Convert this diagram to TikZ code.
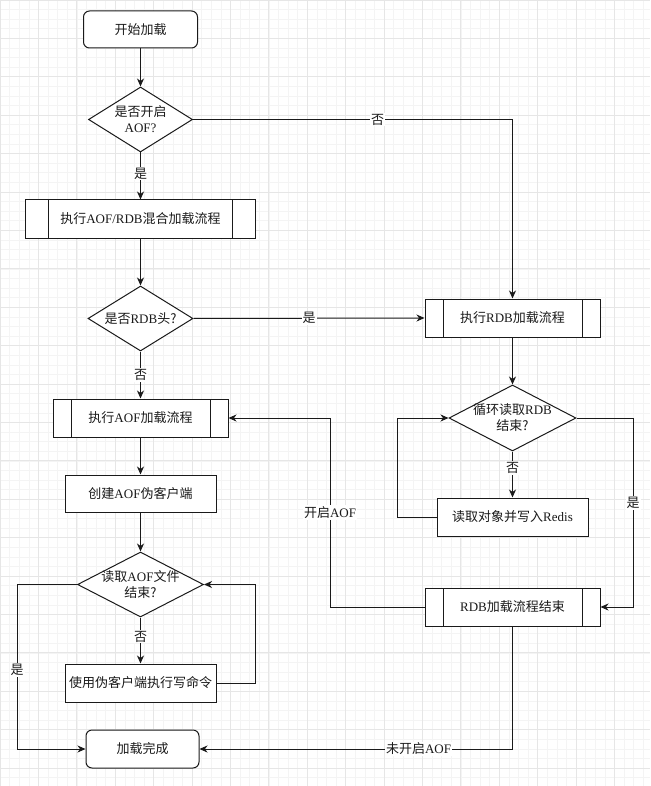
\documentclass[tikz,border=0pt]{standalone}
\usepackage{fontspec}
\setmainfont{Liberation Serif}
\newfontfamily\cjk{Noto Sans CJK SC}
\newcommand\zh[1]{{\cjk #1}}
\usetikzlibrary{shapes.geometric,arrows.meta}
\definecolor{gridminor}{HTML}{F4F4F4}
\definecolor{gridmajor}{HTML}{E6E6E6}
\definecolor{ink}{HTML}{1A1A1A}
\tikzset{
  base/.style={draw=ink, line width=1pt, inner sep=0pt, fill=white, font=\fontsize{13}{16}\selectfont, align=center, text=ink},
  term/.style={base, rounded corners=6pt},
  boxn/.style={base},
  proc/.style={base, path picture={
      \draw[ink, line width=1pt] ([xshift=#1]path picture bounding box.north west) -- ([xshift=#1]path picture bounding box.south west);
      \draw[ink, line width=1pt] ([xshift=-#1]path picture bounding box.north east) -- ([xshift=-#1]path picture bounding box.south east);}},
  proc/.default=18pt,
  dec/.style={base, diamond, aspect=1.6},
  arr/.style={draw=ink, line width=1pt, -{Stealth[length=8pt,width=7pt,inset=2.5pt]}},
  lab/.style={fill=white, inner sep=1pt, font=\fontsize{13}{16}\selectfont, text=ink}
}
\begin{document}
\begin{tikzpicture}[x=1pt,y=-1pt]
\useasboundingbox (0,0) rectangle (650,786);
\fill[white] (0,0) rectangle (650,786);
% grid
\foreach \i in {0,...,67} \draw[gridminor, line width=0.6pt] (\i*9.6,0) -- (\i*9.6,786);
\foreach \j in {0,...,81} \draw[gridminor, line width=0.6pt] (0,\j*9.6) -- (650,\j*9.6);
\foreach \i in {0,...,16} \draw[gridmajor, line width=0.8pt] (\i*38.4,0) -- (\i*38.4,786);
\foreach \j in {0,...,20} \draw[gridmajor, line width=0.8pt] (0,\j*38.4) -- (650,\j*38.4);

% nodes
\node[term, minimum width=114pt, minimum height=37pt] (start) at (140.5,29.5) {\zh{开始加载}};
\node[dec, minimum width=104pt, minimum height=65pt,
  label={[base,draw=none,fill=none]center:\zh{是否开启}\\AOF?}] (d1) at (140.5,119.5) {};
\node[proc=23pt, minimum width=230pt, minimum height=38pt] (mix) at (140.5,219) {\zh{执行}AOF/RDB\zh{混合加载流程}};
\node[dec, minimum width=105pt, minimum height=65pt,
  label={[base,draw=none,fill=none]center:\zh{是否}RDB\zh{头?}}] (d2) at (140.5,318.5) {};
\node[proc, minimum width=175pt, minimum height=38pt] (rdb) at (512.5,318) {\zh{执行}RDB\zh{加载流程}};
\node[proc, minimum width=175pt, minimum height=38pt] (aof) at (140.5,418) {\zh{执行}AOF\zh{加载流程}};
\node[boxn, minimum width=151pt, minimum height=37pt] (create) at (140.5,493.5) {\zh{创建}AOF\zh{伪客户端}};
\node[dec, minimum width=126pt, minimum height=65pt,
  label={[base,draw=none,fill=none]center:\zh{读取}AOF\zh{文件}\\\zh{结束?}}] (d4) at (140.5,584.5) {};
\node[boxn, minimum width=151pt, minimum height=38pt] (use) at (140.5,683) {\zh{使用伪客户端执行写命令}};
\node[term, minimum width=113pt, minimum height=38pt] (finish) at (142.5,749) {\zh{加载完成}};
\node[dec, minimum width=127pt, minimum height=66pt,
  label={[base,draw=none,fill=none]center:\zh{循环读取}RDB\\\zh{结束?}}] (d3) at (512.5,418) {};
\node[boxn, minimum width=151pt, minimum height=38pt] (read) at (512.5,517) {\zh{读取对象并写入}Redis};
\node[proc, minimum width=175pt, minimum height=38pt] (rdbend) at (512.5,607) {RDB\zh{加载流程结束}};

% connectors
\draw[arr] (start.south) -- (d1.north);
\draw[arr] (d1.south) -- node[lab, pos=0.45] {\zh{是}} (mix.north);
\draw[arr] (d1.east) -| node[lab, pos=0.289] {\zh{否}} (rdb.north);
\draw[arr] (mix.south) -- (d2.north);
\draw[arr] (d2.east) -- node[lab, midway] {\zh{是}} (rdb.west);
\draw[arr] (d2.south) -- node[lab, midway] {\zh{否}} (aof.north);
\draw[arr] (aof.south) -- (create.north);
\draw[arr] (create.south) -- (d4.north);
\draw[arr] (d4.south) -- node[lab, pos=0.42] {\zh{否}} (use.north);
\draw[arr] (use.east) -- ++(39,0) |- (d4.east);
\draw[arr] (d4.west) -- (17,584.5) -- node[lab, pos=0.52] {\zh{是}} (17,749) -- (finish.west);
\draw[arr] (rdb.south) -- (d3.north);
\draw[arr] (d3.south) -- node[lab, pos=0.36] {\zh{否}} (read.north);
\draw[arr] (read.west) -- (397,517) |- (d3.west);
\draw[arr] (d3.east) -- (633,418) -- node[lab, pos=0.45] {\zh{是}} (633,607) -- (rdbend.east);
\draw[arr] (rdbend.west) -- (330,607) -- node[lab, midway] {\zh{开启}AOF} (330,418) -- (aof.east);
\draw[arr] (rdbend.south) |- node[lab, pos=0.65] {\zh{未开启}AOF} (finish.east);
\end{tikzpicture}
\end{document}
